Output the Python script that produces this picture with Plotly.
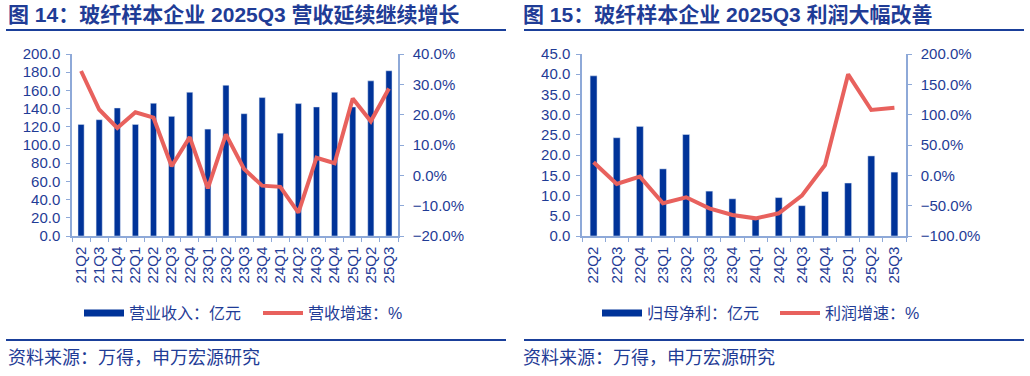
import plotly.graph_objects as go

# ---------------- data ----------------
quarters_left = ["21Q2", "21Q3", "21Q4", "22Q1", "22Q2", "22Q3", "22Q4", "23Q1", "23Q2",
                 "23Q3", "23Q4", "24Q1", "24Q2", "24Q3", "24Q4", "25Q1", "25Q2", "25Q3"]
revenue = [122.6, 127.8, 140.7, 122.6, 145.9, 131.5, 158.0, 117.5, 165.7,
           134.4, 152.1, 113.0, 145.5, 141.8, 158.0, 141.8, 170.5, 181.6]
revenue_growth = [34.4, 21.7, 15.6, 20.8, 19.0, 3.0, 12.6, -4.3, 13.5,
                  2.1, -3.4, -3.8, -12.3, 5.8, 4.0, 25.3, 17.8, 28.6]

quarters_right = ["22Q2", "22Q3", "22Q4", "23Q1", "23Q2", "23Q3", "23Q4",
                  "24Q1", "24Q2", "24Q3", "24Q4", "25Q1", "25Q2", "25Q3"]
profit = [39.6, 24.3, 27.1, 16.6, 25.1, 11.1, 9.2, 4.4, 9.5, 7.5, 11.0, 13.1, 19.8, 15.8]
profit_growth = [21.5, -14.3, -2.2, -46.1, -36.2, -54.4, -65.4, -70.9, -62.6,
                 -33.5, 17.0, 166.5, 107.7, 111.5]

title_left = "图 14：玻纤样本企业 2025Q3 营收延续继续增长"
title_right = "图 15：玻纤样本企业 2025Q3 利润大幅改善"
source_text = "资料来源：万得，申万宏源研究"
legend_names = ["营业收入：亿元", "营收增速：%", "归母净利：亿元", "利润增速：%"]

# ---------------- style ----------------
W, H = 1030, 376
BAR = "#003399"
LINE = "#E8615D"
TXT = "#1F3C96"
AX = "#8EA9D8"
FONT = "Arial, Liberation Sans, Noto Sans CJK SC, sans-serif"

def px(x):
    return x / W

def py(y):
    return 1 - y / H

fig = go.Figure()

# left chart
fig.add_trace(go.Bar(x=quarters_left, y=revenue, marker_color=BAR, width=0.34,
                     xaxis="x", yaxis="y", showlegend=False))
fig.add_trace(go.Scatter(x=quarters_left, y=revenue_growth, mode="lines",
                         line=dict(color=LINE, width=4), xaxis="x", yaxis="y2",
                         showlegend=False))
# right chart
fig.add_trace(go.Bar(x=quarters_right, y=profit, marker_color=BAR, width=0.3,
                     xaxis="x2", yaxis="y3", showlegend=False))
fig.add_trace(go.Scatter(x=quarters_right, y=profit_growth, mode="lines",
                         line=dict(color=LINE, width=4), xaxis="x2", yaxis="y4",
                         showlegend=False))

# legend entries
leg_styles = [(BAR, 7), (LINE, 4), (BAR, 7), (LINE, 4)]
leg_ids = ["legend", "legend2", "legend3", "legend4"]
for name, (c, w), lid in zip(legend_names, leg_styles, leg_ids):
    fig.add_trace(go.Scatter(x=[None], y=[None], mode="lines", name=name,
                             line=dict(color=c, width=w), legend=lid,
                             xaxis="x", yaxis="y"))

axis_common = dict(showgrid=False, zeroline=False, showline=True, linecolor=AX,
                   linewidth=1.5, ticks="outside", ticklen=4, tickcolor=AX,
                   tickfont=dict(family=FONT, size=15, color=TXT))

ydom = [py(236), py(54)]
fig.update_layout(
    width=W, height=H, margin=dict(l=0, r=0, t=0, b=0, autoexpand=False),
    paper_bgcolor="white", plot_bgcolor="white",
    font=dict(family=FONT, color=TXT),
    xaxis=dict(domain=[px(72), px(398)], type="category", range=[-0.5, 17.5],
               tickangle=-90, tickson="boundaries", anchor="y", ticklabelstandoff=3,
               **axis_common),
    yaxis=dict(domain=ydom, range=[0, 200], dtick=20, tickformat=".1f", anchor="x",
               ticklabelstandoff=3, **axis_common),
    yaxis2=dict(overlaying="y", side="right", range=[-20, 40], dtick=10,
                tickformat=".1f", ticksuffix="%", anchor="x", ticklabelstandoff=6,
                **axis_common),
    xaxis2=dict(domain=[px(582), px(906)], type="category", range=[-0.5, 13.5],
                tickangle=-90, tickson="boundaries", anchor="y3", ticklabelstandoff=3,
                **axis_common),
    yaxis3=dict(domain=ydom, range=[0, 45], dtick=5, tickformat=".1f", anchor="x2",
                ticklabelstandoff=3, **axis_common),
    yaxis4=dict(overlaying="y3", side="right", range=[-100, 200], dtick=50,
                tickformat=".1f", ticksuffix="%", anchor="x2", ticklabelstandoff=6,
                **axis_common),
    bargap=0.6,
)

leg_x = [79, 258, 597, 775]
leg_common = dict(orientation="h", yanchor="middle", xanchor="left", y=py(313),
                  bgcolor="rgba(0,0,0,0)", itemwidth=40,
                  font=dict(family=FONT, size=16, color=TXT))
fig.update_layout(
    legend=dict(x=px(leg_x[0]), **leg_common),
    legend2=dict(x=px(leg_x[1]), **leg_common),
    legend3=dict(x=px(leg_x[2]), **leg_common),
    legend4=dict(x=px(leg_x[3]), **leg_common),
)

annotations = []
for t, x0 in [(title_left, 6), (title_right, 521)]:
    annotations.append(dict(text="<b>" + t + "</b>", x=px(x0), y=py(15), xref="paper",
                            yref="paper", xanchor="left", yanchor="middle", showarrow=False,
                            font=dict(family=FONT, size=21, color=TXT)))
for x0 in [6, 521]:
    annotations.append(dict(text=source_text, x=px(x0), y=py(358), xref="paper",
                            yref="paper", xanchor="left", yanchor="middle", showarrow=False,
                            font=dict(family=FONT, size=18, color=TXT)))
fig.update_layout(annotations=annotations)

shapes = []
for (x0, x1) in [(6, 506), (524, 1024)]:
    for yy in [30, 340]:
        shapes.append(dict(type="line", xref="paper", yref="paper", x0=px(x0), x1=px(x1),
                           y0=py(yy), y1=py(yy), line=dict(color="#1A3F9A", width=2)))
fig.update_layout(shapes=shapes)

fig.write_html("out.html", config={"displayModeBar": False},
               post_script="document.body.style.margin='0';")
